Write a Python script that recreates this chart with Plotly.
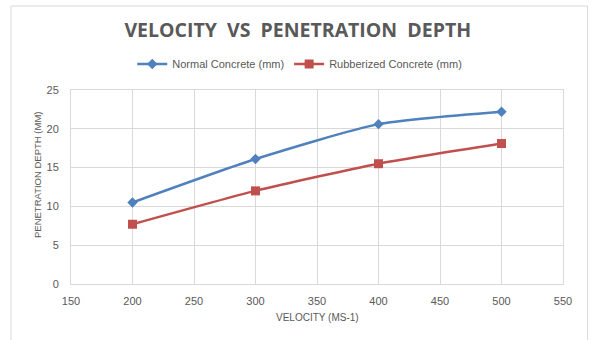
import plotly.graph_objects as go

velocity = [200, 300, 400, 500]
normal_depth = [10.5, 16.1, 20.6, 22.2]
rubber_depth = [7.7, 12.0, 15.5, 18.1]

x_ticks = [150, 200, 250, 300, 350, 400, 450, 500, 550]
y_ticks = [0, 5, 10, 15, 20, 25]

FONT = "Liberation Sans Narrow, Liberation Sans, sans-serif"
TXT = "#595959"
GRID = "#d9d9d9"

fig = go.Figure()
fig.add_trace(go.Scatter(
    x=velocity, y=normal_depth, name="Normal Concrete (mm)",
    mode="lines+markers", line=dict(color="#4f81bd", width=2.5, shape="spline", smoothing=0.6),
    marker=dict(symbol="diamond", size=8, color="#4f81bd"),
))
fig.add_trace(go.Scatter(
    x=velocity, y=rubber_depth, name="Rubberized Concrete (mm)",
    mode="lines+markers", line=dict(color="#c0504d", width=2.5, shape="spline", smoothing=0.6),
    marker=dict(symbol="square", size=9, color="#c0504d"),
))

fig.update_layout(
    width=592, height=340,
    margin=dict(l=71, r=29, t=90, b=56, autoexpand=False),
    paper_bgcolor="white", plot_bgcolor="white",
    font=dict(family=FONT, color=TXT, size=11),
    title=dict(text="VELOCITY  VS  PENETRATION  DEPTH", x=0.503, xanchor="center", xref="container",
               y=0.912, yanchor="middle", yref="container",
               font=dict(family="Open Sans, sans-serif", size=19.5, color=TXT, weight="bold")),
    legend=dict(orientation="h", x=0.465, xanchor="center", y=1.134, yanchor="middle",
                font=dict(size=11, color=TXT), bgcolor="rgba(0,0,0,0)"),
    showlegend=True,
    shapes=[dict(type="rect", xref="paper", yref="paper", x0=-0.122, x1=1.05, y0=-0.30, y1=1.433,
                 line=dict(color="#d9d9d9", width=1), layer="below")],
    annotations=[
        dict(text="VELOCITY (MS-1)", xref="paper", yref="paper", x=0.5, y=-0.175,
             xanchor="center", yanchor="middle", showarrow=False,
             font=dict(size=10, color=TXT)),
        dict(text="PENETRATION DEPTH (MM)", xref="paper", yref="paper", x=-0.067, y=0.562,
             xanchor="center", yanchor="middle", showarrow=False, textangle=-90,
             font=dict(size=9.5, color=TXT)),
    ],
)
fig.update_xaxes(range=[150, 550], tickvals=x_ticks, showgrid=True, gridcolor=GRID, gridwidth=1,
                 zeroline=False, showline=True, linecolor=GRID, mirror=True, ticks="",
                 ticklabelstandoff=7, tickfont=dict(size=11, color=TXT))
fig.update_yaxes(range=[0, 25], tickvals=y_ticks, showgrid=True, gridcolor=GRID, gridwidth=1,
                 zeroline=False, showline=True, linecolor=GRID, mirror=True, ticks="",
                 ticklabelstandoff=9, tickfont=dict(size=11, color=TXT))

fig.write_html("out.html")
